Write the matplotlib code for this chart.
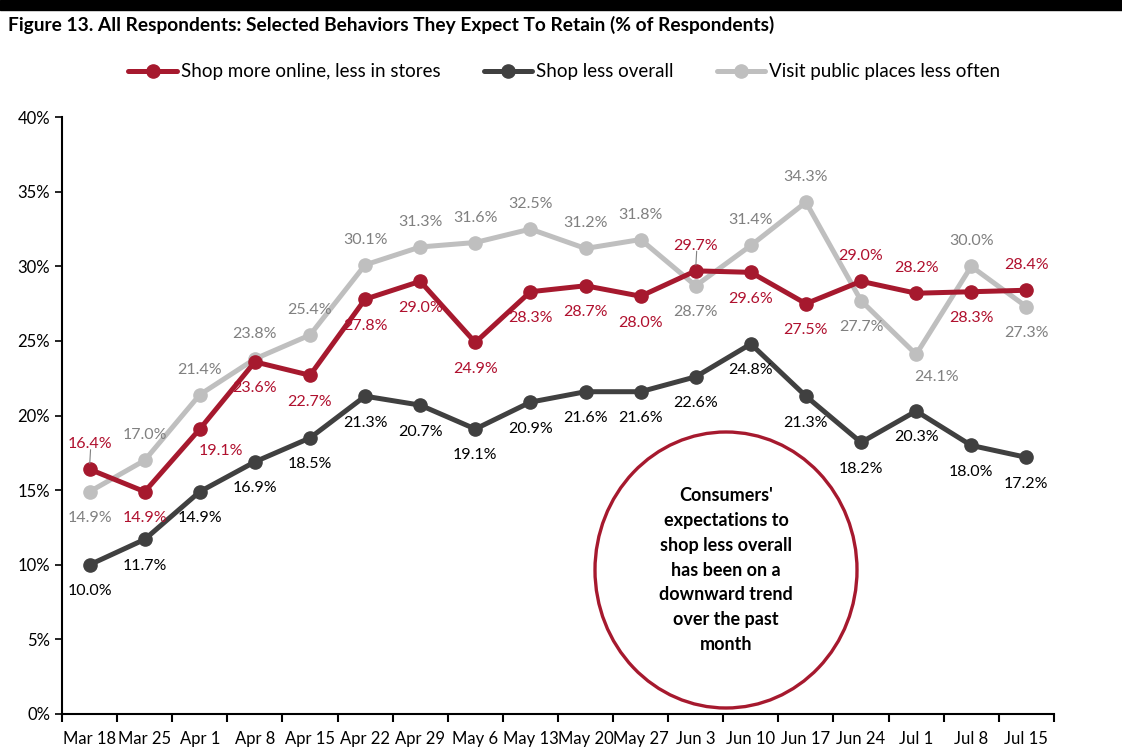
import matplotlib.pyplot as plt
from matplotlib.patches import Ellipse

plt.rcParams["font.family"] = ["Lato", "DejaVu Sans"]

weeks = ["Mar 18", "Mar 25", "Apr 1", "Apr 8", "Apr 15", "Apr 22", "Apr 29", "May 6",
         "May 13", "May 20", "May 27", "Jun 3", "Jun 10", "Jun 17", "Jun 24", "Jul 1",
         "Jul 8", "Jul 15"]
online = [16.4, 14.9, 19.1, 23.6, 22.7, 27.8, 29.0, 24.9, 28.3, 28.7, 28.0, 29.7, 29.6,
          27.5, 29.0, 28.2, 28.3, 28.4]
less_overall = [10.0, 11.7, 14.9, 16.9, 18.5, 21.3, 20.7, 19.1, 20.9, 21.6, 21.6, 22.6,
                24.8, 21.3, 18.2, 20.3, 18.0, 17.2]
public_places = [14.9, 17.0, 21.4, 23.8, 25.4, 30.1, 31.3, 31.6, 32.5, 31.2, 31.8, 28.7,
                 31.4, 34.3, 27.7, 24.1, 30.0, 27.3]

# label placement: a = above, b = below, r = right-below
online_pos = "abrbbbbbbbbabbaaba"
overall_pos = "b" * 18
public_pos = "b" + "a" * 10 + "baabrab"

RED = "#A6192E"
DARK = "#404040"
GREY = "#BFBFBF"

fig = plt.figure(figsize=(11.22, 7.56), dpi=100)
ax = fig.add_axes([0.0553, 0.0556, 0.884, 0.7894])

x = list(range(len(weeks)))
series = [
    (online, RED, "#B0102E", "Shop more online, less in stores", online_pos, 3),
    (less_overall, DARK, "#000000", "Shop less overall", overall_pos, 2),
    (public_places, GREY, "#808080", "Visit public places less often", public_pos, 1),
]
for vals, col, lcol, name, pos, z in series:
    ax.plot(x, vals, color=col, lw=3.6, marker="o", ms=9.5, label=name, zorder=z,
            solid_capstyle="round")
    for i, v in enumerate(vals):
        p = pos[i]
        if p == "a":
            off = (0, 18)
        elif p == "b":
            off = (0, -19)
        else:
            off = (15, -16)
        ax.annotate(f"{v:.1f}%", (i, v), xytext=off, textcoords="offset points",
                    ha="center", va="center", fontsize=11.5, color=lcol, zorder=5)

# leader lines for two labels sitting close to their points
for i in (0, 11):
    ax.annotate("", (i, online[i] + 0.2), xytext=(i + 0.02, online[i] + 1.5),
                arrowprops=dict(arrowstyle="-", color="#808080", lw=0.8))

ax.set_ylim(0, 40)
ax.set_xlim(-0.5, len(weeks) - 0.5)
ax.set_yticks(range(0, 41, 5))
ax.set_yticklabels([f"{t}%" for t in range(0, 41, 5)], fontsize=12)
ax.set_xticks(x)
ax.set_xticklabels(weeks, fontsize=12)
ax.tick_params(axis="x", length=0, pad=12)
ax.set_xticks([i - 0.5 for i in range(len(weeks) + 1)], minor=True)
ax.tick_params(axis="x", which="minor", length=6, width=1.5, direction="out")
ax.tick_params(axis="y", length=5, width=1.2, direction="out")
for s in ("top", "right"):
    ax.spines[s].set_visible(False)
for s in ("left", "bottom"):
    ax.spines[s].set_linewidth(1.5)

fig.patches.append(Ellipse((726 / 1122, 1 - 570 / 756), 262 / 1122, 276 / 756,
                           transform=fig.transFigure, fill=False, ec=RED, lw=2.4))
fig.text(726 / 1122, 1 - 570 / 756,
         "Consumers'\nexpectations to\nshop less overall\nhas been on a\ndownward trend\nover the past\nmonth",
         ha="center", va="center", fontsize=13, fontweight="bold", linespacing=1.55)

fig.patches.append(plt.Rectangle((0, 1 - 10 / 756), 1, 10 / 756, transform=fig.transFigure,
                                 color="black"))
fig.text(8 / 1122, 1 - 25 / 756,
         "Figure 13. All Respondents: Selected Behaviors They Expect To Retain (% of Respondents)",
         ha="left", va="center", fontsize=13.8, fontweight="bold")

fig.legend(loc="center", bbox_to_anchor=(0.503, 1 - 72 / 756), ncol=3, frameon=False,
           fontsize=13.5, handlelength=2.6, columnspacing=2.3, handletextpad=0.2)

fig.savefig("out.png", dpi=100)
